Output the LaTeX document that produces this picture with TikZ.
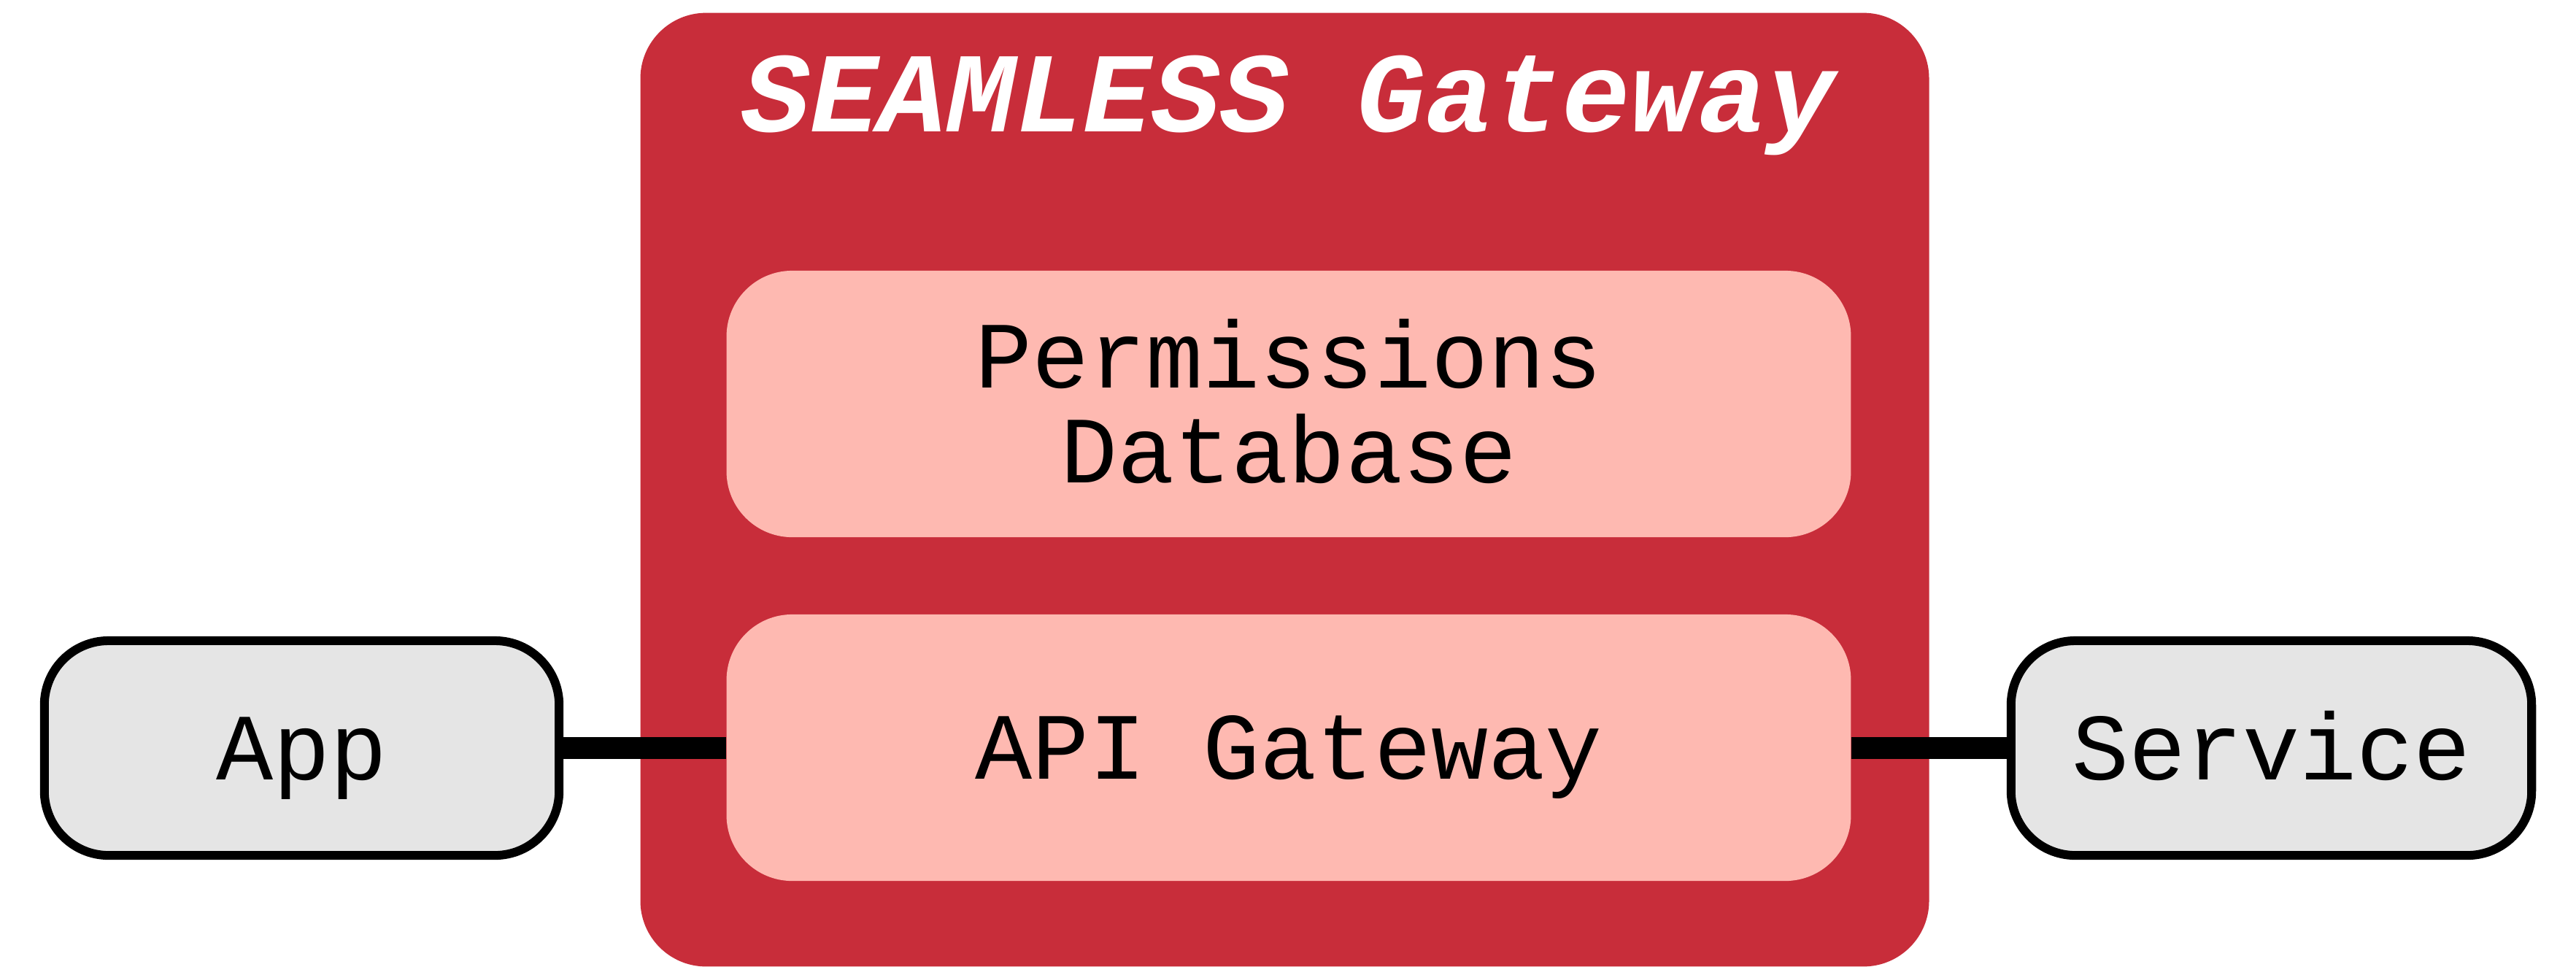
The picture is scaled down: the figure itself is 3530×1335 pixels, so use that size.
\documentclass[tikz,border=0pt]{standalone}
\usepackage{fontspec}
\setmonofont{Liberation Mono}
\newfontfamily\boxfont{Liberation Mono}
\definecolor{gatewayred}{RGB}{200,45,58}
\definecolor{partpink}{RGB}{254,185,177}
\definecolor{extgray}{RGB}{229,229,229}
\tikzset{
  gatewaybox/.style={fill=gatewayred, rounded corners=0.9cm, inner sep=0pt},
  gatewaytitle/.style={text=white, inner sep=0pt,
    font={\boxfont\bfseries\itshape\fontsize{44.4}{44.4}\selectfont}},
  partbox/.style={fill=partpink, rounded corners=0.9cm, inner sep=0pt,
    minimum width=15.40cm, minimum height=3.65cm, align=center,
    font={\boxfont\fontsize{37}{37}\selectfont}},
  extbox/.style={draw=black, fill=extgray, line width=0.12cm, rounded corners=0.88cm,
    inner sep=0pt, minimum height=2.94cm,
    font={\boxfont\fontsize{37}{37}\selectfont}},
  % centre the text on its capitals (cap height 0.86cm, line pitch 1.30cm)
  oneline/.style={text height=0.86cm, text depth=0pt},
  twolines/.style={text height=2.16cm, text depth=0pt},
  link/.style={line width=0.30cm, black},
}
\begin{document}
\begin{tikzpicture}[x=0.01cm, y=-0.01cm]
  \useasboundingbox (0,0) rectangle (3530,1335);

  % outer gateway container
  \node[gatewaybox, minimum width=17.65cm, minimum height=13.06cm] (gw) at (1760.5,671) {};
  \node[gatewaytitle, anchor=base] (title) at (1766,180) {SEAMLESS Gateway};

  % components inside the gateway
  \node[partbox, twolines] (perm) at (1766,553.5) {Permissions\\Database};
  \node[partbox, oneline] (api) at (1766,1024.5) {API Gateway};

  % external parties
  \node[extbox, oneline, minimum width=7.05cm] (app) at (413.5,1025) {App};
  \node[extbox, oneline, minimum width=7.13cm] (svc) at (3112.5,1025) {Service};

  % connections
  \draw[link] (app.east) -- (app.east -| api.west);
  \draw[link] (api.east) -- (api.east -| svc.west);
\end{tikzpicture}
\end{document}
